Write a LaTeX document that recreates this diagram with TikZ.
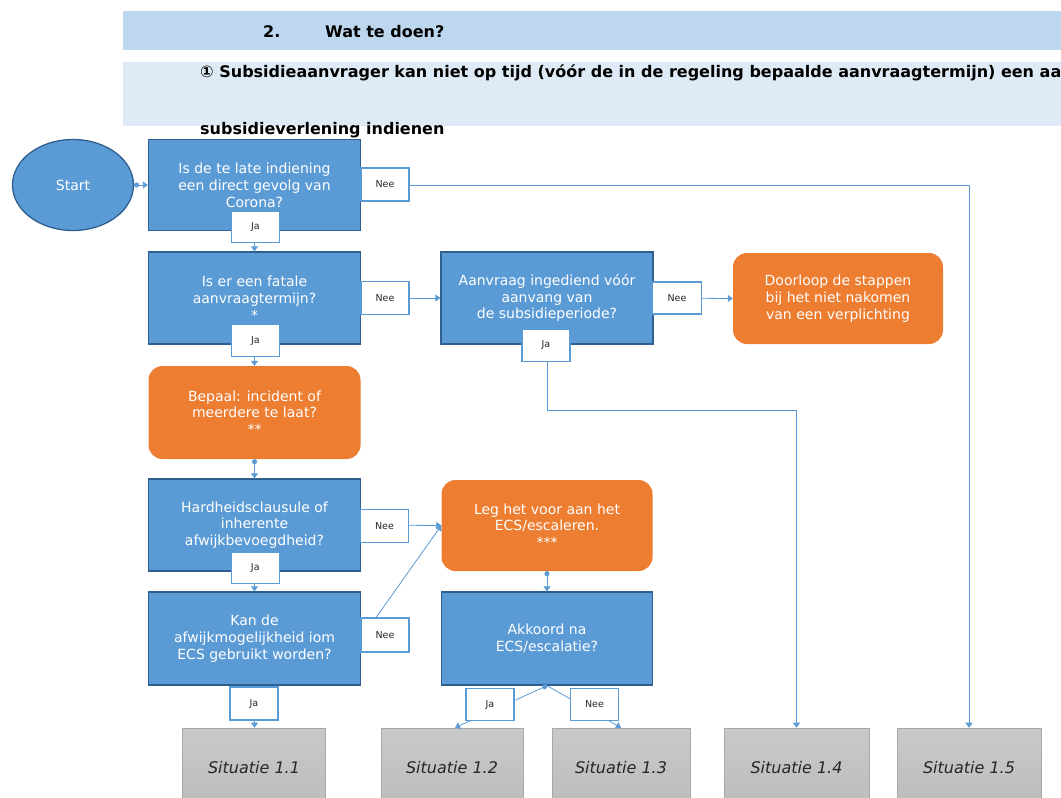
\documentclass[tikz,border=0pt]{standalone}
\usepackage{fontspec}
\setmainfont{DejaVu Sans}
\usetikzlibrary{arrows.meta,calc,shapes.geometric}
\definecolor{bfill}{HTML}{5B9BD5}
\definecolor{bdraw}{HTML}{2F5F8F}
\definecolor{ofill}{HTML}{ED7D31}
\definecolor{lineblue}{HTML}{5B9BD5}
\definecolor{hdrA}{HTML}{BDD7EE}
\definecolor{hdrB}{HTML}{DEEBF7}
\definecolor{sittop}{HTML}{C9C9C9}
\definecolor{sitbot}{HTML}{BCBCBC}
\definecolor{sitborder}{HTML}{A8A8A8}
\begin{document}
\begin{tikzpicture}[x=1pt,y=-1pt,
  boxfont/.style={font=\fontsize{14}{16.8}\selectfont},
  bluebox/.style={draw=bdraw,line width=1.3pt,fill=bfill,text=white,minimum width=212pt,minimum height=92pt,align=center,inner sep=0pt,boxfont},
  orangebox/.style={fill=ofill,rounded corners=14pt,text=white,minimum width=212pt,minimum height=92pt,align=center,inner sep=0pt,boxfont},
  labbox/.style={draw=lineblue,line width=1.3pt,fill=white,minimum width=48pt,minimum height=32pt,inner sep=0pt,text=black!85,font=\fontsize{9.5}{11}\selectfont},
  sitbox/.style={draw=sitborder,line width=0.6pt,top color=sittop,bottom color=sitbot,minimum width=142pt,minimum height=80pt,inner sep=0pt,text=black!85,font=\fontsize{16}{19}\selectfont\itshape},
  link/.style={draw=lineblue,line width=0.8pt},
  arr/.style={link,-{Triangle[width=7pt,length=5pt]}},
  dotarr/.style={link,{Circle[length=5pt]}-{Triangle[width=7pt,length=5pt]}},
  hdrfont/.style={font=\fontsize{16}{19}\selectfont\bfseries}
]
\useasboundingbox (0,0) rectangle (1061,798);
% header bands
\fill[hdrA] (123,11) rectangle (1061,50);
\fill[hdrB] (123,62) rectangle (1061,126);
\node[anchor=base west,inner sep=0pt,hdrfont] (hnum) at (263,37) {2.};
\node[anchor=base west,inner sep=0pt,hdrfont] (htitle) at (325,37) {Wat te doen?};
\node[anchor=base west,inner sep=0pt] (hline1) at (200,77) {\resizebox{861pt}{!}{\bfseries ① Subsidieaanvrager kan niet op tijd (vóór de in de regeling bepaalde aanvraagtermijn) een aa}};
\node[anchor=base west,inner sep=0pt,hdrfont] (hline2) at (200,134) {subsidieverlening indienen};

% main nodes
\node[ellipse,draw=bdraw,line width=1.3pt,fill=bfill,text=white,minimum width=121pt,minimum height=91pt,inner sep=0pt,boxfont] (start) at (73,185) {Start};
\node[bluebox,minimum height=91pt] (box1) at (254.5,185) {Is de te late indiening\\een direct gevolg van\\Corona?};
\node[bluebox] (box2) at (254.5,298) {Is er een fatale\\aanvraagtermijn?\\*};
\node[bluebox] (box3) at (547,298) {Aanvraag ingediend vóór\\aanvang van\\de subsidieperiode?};
\node[orangebox,minimum width=210pt,minimum height=91pt] (orange2) at (838,298.5) {Doorloop de stappen\\bij het niet nakomen\\van een verplichting};
\node[orangebox,minimum height=93pt] (orange1) at (254.5,412.5) {Bepaal: incident of\\meerdere te laat?\\**};
\node[bluebox] (box4) at (254.5,525) {Hardheidsclausule of\\inherente\\afwijkbevoegdheid?};
\node[bluebox,minimum height=93pt] (box5) at (254.5,638.5) {Kan de\\afwijkmogelijkheid iom\\ECS gebruikt worden?};
\node[orangebox,minimum width=211pt,minimum height=91pt] (orange3) at (547,525.5) {Leg het voor aan het\\ECS/escaleren.\\***};
\node[bluebox,minimum width=211pt,minimum height=93pt] (box6) at (547,638.5) {Akkoord na\\ECS/escalatie?};

% outcome boxes
\node[sitbox,minimum width=143pt] (sit1) at (254,768) {Situatie 1.1};
\node[sitbox] (sit2) at (452,768) {Situatie 1.2};
\node[sitbox,minimum width=138pt] (sit3) at (621,768) {Situatie 1.3};
\node[sitbox,minimum width=145pt] (sit4) at (796.5,768) {Situatie 1.4};
\node[sitbox,minimum width=144pt] (sit5) at (969,768) {Situatie 1.5};

% connectors
\draw[dotarr] (start.east) -- (box1.west);
\draw[arr] (box1.south) -- (box2.north);
\draw[arr] (box1.east) -| (sit5.north);
\draw[arr] (box2.east) -- (box3.west);
\draw[arr] (box2.south) -- (orange1.north);
\draw[arr] (box3.east) -- (orange2.west);
\coordinate (bend3) at ($(box3.south)+(0,66)$);
\draw[arr] (box3.south) -- (bend3) -| (sit4.north);
\draw[dotarr] (orange1.south) -- (box4.north);
\draw[arr] (box4.east) -- (orange3.west);
\draw[arr] (box4.south) -- (box5.north);
\draw[arr] (box5.east) -- (orange3.west);
\draw[arr] (box5.south) -- (box5.south |- sit1.north);
\draw[dotarr] (orange3.south) -- (box6.north);
\coordinate (sit2in) at ($(sit2.north)+(3,0)$);
\draw[dotarr] (box6.south) -- (sit2in);
\draw[arr] (box6.south) -- (sit3.north);

% answer labels
\node[labbox,minimum height=33pt] (nee1) at (385,184.5) {Nee};
\node[labbox,minimum height=31pt] (ja1) at (255.5,227.2) {Ja};
\node[labbox,minimum height=33pt] (nee2) at (385,297.7) {Nee};
\node[labbox,minimum height=32pt] (ja2) at (255.5,340.5) {Ja};
\node[labbox,minimum width=49pt] (nee3) at (677,298) {Nee};
\node[labbox,minimum height=32.5pt] (ja3) at (546,345.4) {Ja};
\node[labbox,minimum height=33pt] (nee4) at (384.5,526) {Nee};
\node[labbox,minimum height=31pt] (ja4) at (255.3,568) {Ja};
\node[labbox,minimum height=34pt] (nee5) at (385,635) {Nee};
\node[labbox,minimum height=33pt] (ja5) at (254,703.5) {Ja};
\node[labbox] (ja6) at (490,704.5) {Ja};
\node[labbox] (nee6) at (594.5,704.5) {Nee};
\end{tikzpicture}
\end{document}
